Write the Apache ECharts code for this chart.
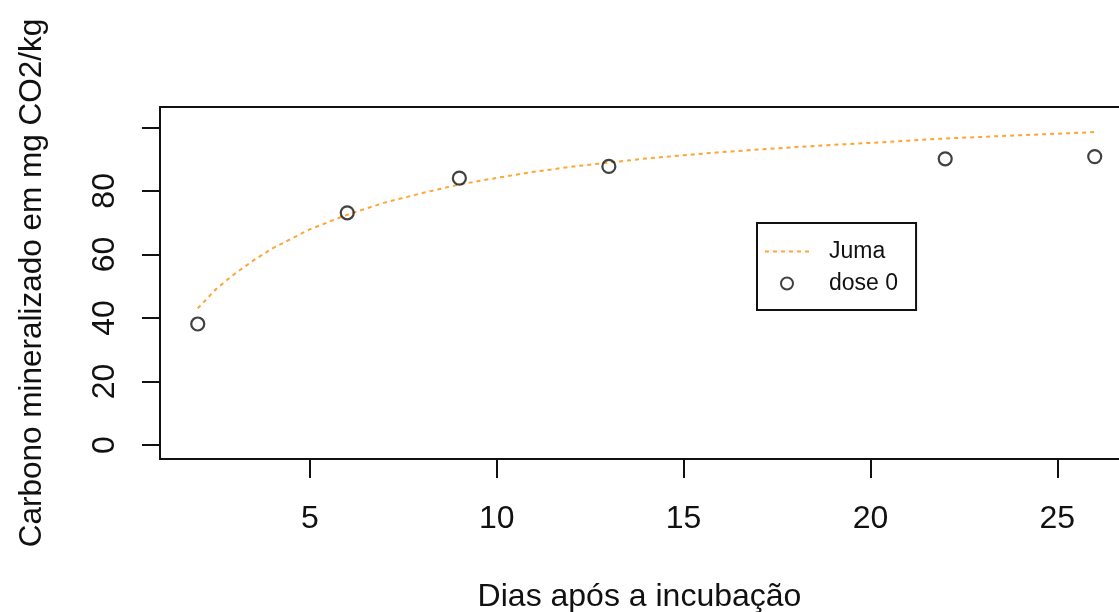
<!DOCTYPE html>
<html>
<head>
<meta charset="utf-8">
<script src="https://cdn.jsdelivr.net/npm/echarts@6/dist/echarts.min.js"></script>
<style>
  html, body { margin: 0; padding: 0; background: #fff; }
  #chart { width: 1119px; height: 612px; }
</style>
</head>
<body>
<div id="chart"></div>
<script>
// Observed mineralized carbon (dose 0)
const dias = [2, 6, 9, 13, 22, 26];
const dose0 = [38.1, 73.1, 84.0, 87.7, 90.1, 90.8];

// Fitted Juma curve
const jumaDias = [2, 2.5, 3, 3.5, 4, 5, 6, 7, 8, 9, 10, 11, 12, 13, 14, 15, 16, 17, 18, 19, 20, 21, 22, 23, 24, 25, 26];
const jumaValores = [43.0, 49.2, 54.0, 58.2, 61.9, 67.9, 72.5, 76.3, 79.3, 82.0, 84.1, 86.0, 87.6, 88.9, 90.2, 91.2, 92.2, 93.0, 93.8, 94.5, 95.1, 95.8, 96.5, 97.0, 97.5, 98.0, 98.5];

// Axis ticks and labels
const xTicks = [5, 10, 15, 20, 25];
const yTicks = [0, 20, 40, 60, 80, 100];
const yLabels = [0, 20, 40, 60, 80];

const FONT = '"Liberation Sans", Arial, sans-serif';
const INK = '#111111';
const X_MIN = 0.99, X_MAX = 26.65;

const chart = echarts.init(document.getElementById('chart'), null, { renderer: 'canvas' });

chart.setOption({
  animation: false,
  backgroundColor: '#ffffff',
  textStyle: { fontFamily: FONT, color: INK },
  grid: { left: 160, top: 107, right: 0, bottom: 153, outerBoundsMode: 'none', containLabel: false },
  xAxis: [
    {
      type: 'value',
      position: 'bottom',
      min: X_MIN, max: X_MAX,
      name: 'Dias após a incubação',
      nameLocation: 'middle',
      nameGap: 122,
      nameTextStyle: { fontSize: 32, color: INK, fontFamily: FONT },
      axisLine: { show: true, onZero: false, lineStyle: { color: INK, width: 2 } },
      axisTick: { show: true, customValues: xTicks, length: 19, lineStyle: { color: INK, width: 2 } },
      axisLabel: { customValues: xTicks, fontSize: 32, color: INK, margin: 44, fontFamily: FONT },
      splitLine: { show: false }
    },
    {
      // upper edge of the plot frame
      type: 'value',
      position: 'top',
      min: X_MIN, max: X_MAX,
      axisLine: { show: true, onZero: false, lineStyle: { color: INK, width: 2 } },
      axisTick: { show: false },
      axisLabel: { show: false },
      splitLine: { show: false }
    }
  ],
  yAxis: {
    type: 'value',
    min: -4.4, max: 106.4,
    name: 'Carbono mineralizado em mg CO2/kg',
    nameLocation: 'middle',
    nameRotate: 90,
    nameGap: 112,
    nameTextStyle: { fontSize: 31.5, color: INK, fontFamily: FONT },
    axisLine: { show: true, onZero: false, lineStyle: { color: INK, width: 2 } },
    axisTick: { show: true, customValues: yTicks, length: 18, lineStyle: { color: INK, width: 2 } },
    axisLabel: { customValues: yLabels, rotate: 90, fontSize: 32, color: INK, margin: 39, fontFamily: FONT },
    splitLine: { show: false }
  },
  legend: {
    orient: 'vertical',
    left: 757, top: 223,
    padding: [17, 18, 15, 7],
    itemWidth: 44, itemHeight: 12, itemGap: 9,
    borderColor: INK, borderWidth: 2,
    backgroundColor: '#fff',
    textStyle: { fontSize: 23, color: INK, fontFamily: FONT, padding: [0, 0, 0, 15] },
    data: [
      { name: 'Juma', itemStyle: { color: 'rgba(0,0,0,0)', borderWidth: 0, opacity: 0 } },
      'dose 0'
    ]
  },
  series: [
    {
      name: 'Juma',
      type: 'line',
      data: jumaDias.map((d, i) => [d, jumaValores[i]]),
      symbol: 'none',
      smooth: false,
      lineStyle: { color: '#FFA533', width: 2, type: [4, 4] },
      itemStyle: { color: '#FFA533' },
      z: 2
    },
    {
      name: 'dose 0',
      type: 'scatter',
      data: dias.map((d, i) => [d, dose0[i]]),
      symbol: 'circle',
      symbolSize: 13,
      itemStyle: { color: 'rgba(0,0,0,0)', borderColor: INK, borderWidth: 2.2 },
      z: 3
    }
  ]
});
</script>
</body>
</html>
